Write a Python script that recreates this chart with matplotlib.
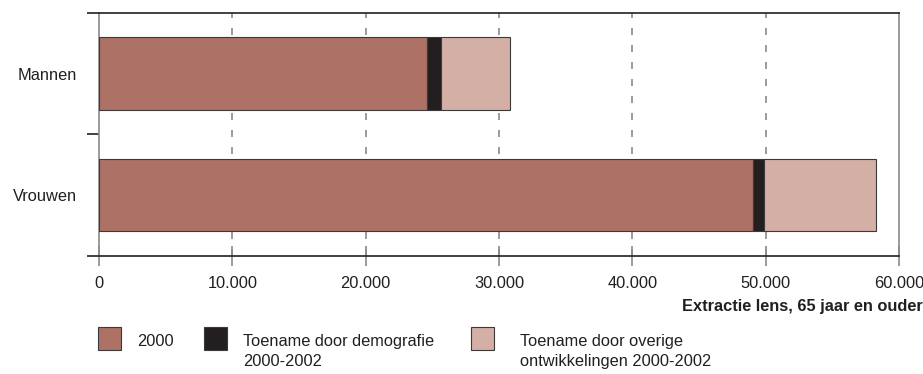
import numpy as np
import matplotlib
matplotlib.use("Agg")
import matplotlib.pyplot as plt
from matplotlib.patches import Rectangle

plt.rcParams['font.family'] = ['Liberation Sans', 'DejaVu Sans']

# data
categories = ["Vrouwen", "Mannen"]
base_2000 = [49075, 24620]
demografie = [800, 1030]
overige = [8375, 5180]
series_labels = ["2000", "Toename door demografie\n2000-2002",
                 "Toename door overige\nontwikkelingen 2000-2002"]
x_ticks = [0, 10000, 20000, 30000, 40000, 50000, 60000]
x_tick_labels = ["0", "10.000", "20.000", "30.000", "40.000", "50.000", "60.000"]
x_label = "Extractie lens, 65 jaar en ouder"

colors = ["#AD7265", "#231F20", "#D4AFA5"]
txt = "#231F20"
grey = "#8a8a8a"
fs = 11.8

fig = plt.figure(figsize=(9.23, 3.74), dpi=100)
ax = fig.add_axes([99 / 923, 118.3 / 374, 800 / 923, 242.7 / 374])

y = np.arange(len(categories))
left = np.zeros(len(categories))
for vals, c in zip([base_2000, demografie, overige], colors):
    ax.barh(y, vals, left=left, height=0.6, color=c, edgecolor="#3a3a3a",
            linewidth=0.8, zorder=3)
    left += np.array(vals)

ax.set_xlim(0, 60000)
ax.set_ylim(-0.5, 1.5)

# dashed grid
for xt in x_ticks[1:-1]:
    ax.axvline(xt, color=grey, lw=1.2, dashes=(4.2, 6), zorder=1)

ax.set_xticks(x_ticks)
ax.set_xticklabels(x_tick_labels, fontsize=fs, color=txt)
ax.tick_params(axis="x", direction="inout", length=15, width=1.2,
               color=grey, pad=7)

ax.set_yticks(y)
ax.set_yticklabels(categories, fontsize=fs, color=txt)
ax.tick_params(axis="y", length=0, pad=16)
ax.set_yticks([-0.5, 0.5, 1.5], minor=True)
ax.tick_params(axis="y", which="minor", length=8.5, width=1.2, color=txt)

for side in ["left", "right"]:
    ax.spines[side].set_color(grey)
    ax.spines[side].set_linewidth(1.2)
for side in ["top", "bottom"]:
    ax.spines[side].set_color(txt)
    ax.spines[side].set_linewidth(1.2)

fig.text(1.0, 1 - 306 / 374, x_label, ha="right", va="center",
         fontsize=fs, fontweight="bold", color=txt)

# legend
patch_x = [98, 204, 471]
text_x = [137, 243, 520]
for px, tx, c, lab in zip(patch_x, text_x, colors, series_labels):
    fig.patches.append(Rectangle((px / 923, 1 - 350 / 374), 23 / 923, 23 / 374,
                                 transform=fig.transFigure, facecolor=c,
                                 edgecolor="#3a3a3a", linewidth=0.8))
    fig.text(tx / 923, 1 - 334 / 374, lab, ha="left", va="top",
             fontsize=fs, color=txt, linespacing=1.45)

fig.savefig("out.png", dpi=100)
